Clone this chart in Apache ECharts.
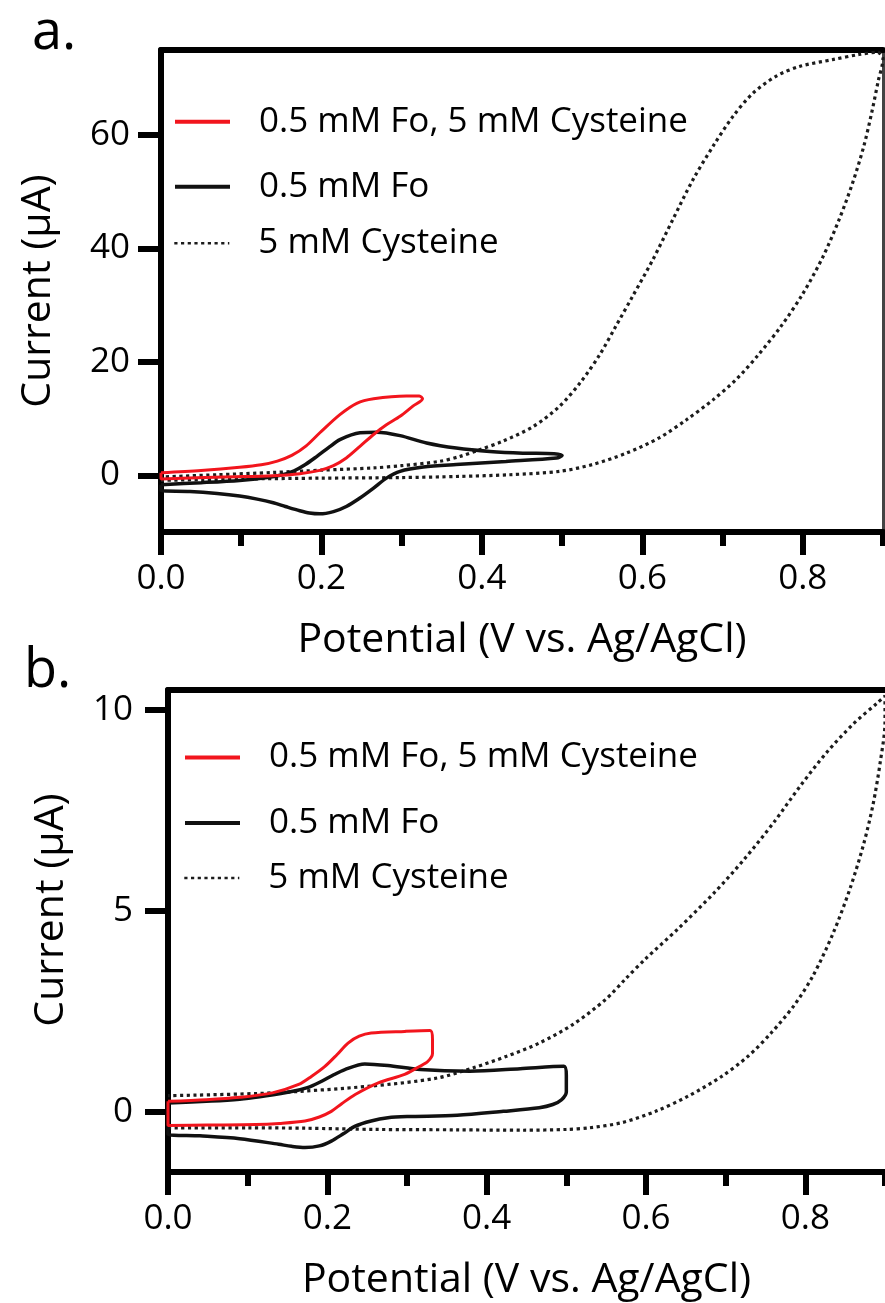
<!DOCTYPE html>
<html>
<head>
<meta charset="utf-8">
<script src="https://cdn.jsdelivr.net/npm/echarts@6/dist/echarts.min.js"></script>
<style>
html,body{margin:0;padding:0;background:#fff;}
#chart{width:885px;height:1303px;}
</style>
</head>
<body>
<div id="chart"></div>
<script>
// ---- tick labels / text ----
const xTickValues = [0, 0.2, 0.4, 0.6, 0.8];
const xMinorTickValues = [0.1, 0.3, 0.5, 0.7, 0.9];
const yTickValuesA = [0, 20, 40, 60];
const yTickValuesB = [0, 5, 10];
const seriesNames = ['0.5 mM Fo, 5 mM Cysteine', '0.5 mM Fo', '5 mM Cysteine'];
const panelLabels = ['a.', 'b.'];
const xTitle = 'Potential (V vs. Ag/AgCl)';
const yTitle = 'Current (\u03bcA)';

// ---- panel a data: [potential V, current uA] ----
const aFoCys = [[0.000,0.45],[0.050,0.85],[0.098,1.40],[0.125,1.85],[0.145,2.50],[0.163,3.50],[0.181,5.20],[0.198,7.50],[0.223,10.70],[0.244,12.70],[0.265,13.50],[0.306,14.00],[0.322,14.00],[0.326,13.50],[0.314,12.20],[0.298,10.40],[0.281,8.90],[0.265,7.20],[0.248,5.10],[0.231,3.05],[0.215,1.70],[0.198,0.87],[0.173,0.28],[0.140,-0.07],[0.078,-0.30],[0.000,-0.65],[0.000,0.45]];
const aFo = [[0.000,-1.65],[0.050,-1.30],[0.098,-0.90],[0.130,-0.45],[0.150,0.05],[0.166,0.80],[0.180,1.90],[0.194,3.30],[0.210,5.00],[0.223,6.30],[0.248,7.50],[0.269,7.60],[0.298,7.00],[0.331,5.70],[0.368,4.80],[0.410,4.20],[0.451,3.90],[0.490,3.80],[0.500,3.50],[0.493,3.05],[0.430,2.45],[0.368,1.90],[0.327,1.45],[0.298,0.70],[0.281,-0.50],[0.265,-2.25],[0.248,-4.00],[0.231,-5.50],[0.215,-6.40],[0.198,-6.80],[0.185,-6.65],[0.173,-6.25],[0.155,-5.50],[0.140,-4.85],[0.120,-4.20],[0.098,-3.65],[0.070,-3.20],[0.036,-2.85],[0.000,-2.70],[0.000,-1.65]];
const aCys = [[0.000,-0.90],[0.050,-0.75],[0.100,-0.65],[0.200,-0.50],[0.300,-0.40],[0.372,-0.20],[0.435,0.10],[0.497,0.70],[0.538,1.90],[0.580,3.90],[0.621,6.60],[0.655,9.80],[0.688,13.30],[0.717,16.90],[0.745,21.30],[0.773,26.30],[0.800,32.00],[0.825,38.50],[0.845,45.00],[0.862,51.50],[0.876,58.00],[0.886,64.00],[0.894,69.50],[0.900,73.50],[0.893,74.60],[0.870,74.20],[0.837,73.30],[0.796,72.10],[0.767,70.40],[0.738,67.40],[0.713,63.30],[0.688,58.00],[0.663,52.10],[0.638,45.10],[0.613,38.00],[0.588,31.60],[0.567,26.30],[0.547,21.30],[0.524,16.60],[0.497,12.20],[0.464,8.60],[0.426,6.00],[0.397,4.50],[0.372,3.30],[0.347,2.45],[0.300,1.70],[0.265,1.30],[0.200,0.90],[0.140,0.50],[0.070,0.10],[0.000,-0.30]];

// ---- panel b data ----
const bFoCys = [[0.000,0.26],[0.048,0.30],[0.090,0.36],[0.131,0.47],[0.164,0.68],[0.180,0.88],[0.197,1.13],[0.212,1.42],[0.226,1.71],[0.240,1.88],[0.255,1.96],[0.297,2.00],[0.329,2.02],[0.332,1.80],[0.332,1.45],[0.326,1.25],[0.315,1.12],[0.297,0.93],[0.264,0.72],[0.235,0.43],[0.218,0.20],[0.205,0.01],[0.190,-0.13],[0.172,-0.23],[0.140,-0.29],[0.110,-0.32],[0.050,-0.33],[0.000,-0.34],[0.000,0.26]];
const bFo = [[0.000,0.22],[0.090,0.31],[0.152,0.49],[0.175,0.60],[0.193,0.76],[0.208,0.92],[0.222,1.05],[0.247,1.19],[0.276,1.15],[0.317,1.05],[0.379,1.01],[0.442,1.07],[0.497,1.13],[0.500,0.90],[0.500,0.50],[0.494,0.30],[0.483,0.18],[0.466,0.10],[0.421,0.01],[0.363,-0.09],[0.300,-0.12],[0.276,-0.15],[0.255,-0.23],[0.235,-0.36],[0.220,-0.55],[0.205,-0.73],[0.190,-0.85],[0.172,-0.89],[0.155,-0.86],[0.139,-0.81],[0.090,-0.67],[0.040,-0.60],[0.000,-0.56],[0.000,0.22]];
const bCys = [[0.000,-0.40],[0.100,-0.40],[0.172,-0.41],[0.260,-0.44],[0.363,-0.45],[0.446,-0.46],[0.500,-0.44],[0.529,-0.40],[0.570,-0.27],[0.612,0.01],[0.653,0.39],[0.695,0.88],[0.728,1.38],[0.757,1.96],[0.786,2.65],[0.810,3.40],[0.835,4.45],[0.856,5.55],[0.873,6.65],[0.885,7.65],[0.894,8.70],[0.900,9.70],[0.900,10.35],[0.891,10.19],[0.860,9.65],[0.827,8.95],[0.794,8.12],[0.761,7.22],[0.723,6.28],[0.686,5.46],[0.640,4.55],[0.599,3.80],[0.574,3.30],[0.549,2.79],[0.508,2.17],[0.466,1.71],[0.425,1.38],[0.384,1.10],[0.338,0.84],[0.255,0.64],[0.131,0.47],[0.000,0.40]];

const FONT = '"Open Sans", "Noto Sans", "DejaVu Sans", sans-serif';
const INK = '#000';
const styles = [
  {color: '#f2151d', width: 3},
  {color: '#111111', width: 3.5},
  {color: '#1c1c1c', width: 3.2, type: [3.2, 3.5]}
];

function xAxesFor(gi) {
  return [
    { gridIndex: gi, type: 'value', min: 0, max: 0.9, position: 'bottom',
      axisLine: {onZero: false, lineStyle: {color: INK, width: 6, cap: 'round'}},
      axisTick: {customValues: xTickValues, length: 23, lineStyle: {color: INK, width: 6}},
      axisLabel: {customValues: xTickValues, margin: 30, color: INK, fontSize: 35, fontFamily: FONT,
                  formatter: v => v.toFixed(1)},
      splitLine: {show: false},
      name: xTitle, nameLocation: 'middle', nameGap: 88,
      nameTextStyle: {color: INK, fontSize: 41, fontFamily: FONT} },
    { gridIndex: gi, type: 'value', min: 0, max: 0.9, position: 'bottom',
      axisLine: {show: false, onZero: false},
      axisTick: {customValues: xMinorTickValues, length: 14, lineStyle: {color: INK, width: 6}},
      axisLabel: {show: false}, splitLine: {show: false} },
    { gridIndex: gi, type: 'value', min: 0, max: 0.9, position: 'top',
      axisLine: {onZero: false, lineStyle: {color: INK, width: 6, cap: 'round'}},
      axisTick: {show: false}, axisLabel: {show: false}, splitLine: {show: false} }
  ];
}

function yAxisMain(gi, min, max, ticks, labelCfg, nameGap, namePad) {
  return { gridIndex: gi, type: 'value', min: min, max: max, position: 'left',
    axisLine: {onZero: false, lineStyle: {color: INK, width: 6, cap: 'round'}},
    axisTick: {customValues: ticks, length: 23, lineStyle: {color: INK, width: 6}},
    axisLabel: Object.assign({customValues: ticks, color: INK, fontSize: 35, fontFamily: FONT}, labelCfg),
    splitLine: {show: false},
    name: yTitle, nameLocation: 'middle', nameGap: nameGap,
    nameTextStyle: {color: INK, fontSize: 41, fontFamily: FONT, padding: namePad} };
}

function line(name, data, xi, yi, st, z) {
  return { type: 'line', name: name, data: data, xAxisIndex: xi, yAxisIndex: yi,
    symbol: 'none', showSymbol: false, smooth: 0.3, z: z, silent: true,
    color: st.color, itemStyle: {color: st.color},
    lineStyle: Object.assign({}, st) };
}

function legendItem(name, left, centerY, lw) {
  return { data: [name], left: left, top: centerY - 17.5, padding: 0, orient: 'horizontal',
    itemWidth: 55, itemHeight: 14, selectedMode: false,
    itemStyle: {opacity: 0, borderWidth: 0},
    lineStyle: {width: lw},
    textStyle: {color: INK, fontSize: 35, fontFamily: FONT, padding: [0, 0, 0, 24]} };
}

const option = {
  animation: false,
  backgroundColor: '#fff',
  grid: [
    {left: 161, top: 50, width: 722, height: 482},
    {left: 168, top: 690, width: 724, height: 482}
  ],
  xAxis: xAxesFor(0).concat(xAxesFor(1)),
  yAxis: [
    yAxisMain(0, -10, 75, yTickValuesA, {margin: 51, align: 'center'}, 102, 0),
    { gridIndex: 0, type: 'value', min: -10, max: 75, position: 'right',
      axisLine: {onZero: false, lineStyle: {color: '#444', width: 3}},
      axisTick: {show: false}, axisLabel: {show: false}, splitLine: {show: false} },
    yAxisMain(1, -1.5, 10.5, yTickValuesB, {margin: 35}, 96, [0, 0, 0, 42])
  ],
  legend: [
    legendItem(seriesNames[0], 173, 121.7, 4),
    legendItem(seriesNames[1], 173, 186.7, 4),
    legendItem(seriesNames[2], 173, 243.3, 2.6),
    legendItem(seriesNames[0], 183, 757.5, 4),
    legendItem(seriesNames[1], 183, 823, 4),
    legendItem(seriesNames[2], 183, 878, 2.6)
  ],
  graphic: [
    {type: 'text', left: 32, top: 7, style: {text: panelLabels[0], fontSize: 54, fontFamily: FONT, fill: INK}},
    {type: 'text', left: 24, top: 645, style: {text: panelLabels[1], fontSize: 54, fontFamily: FONT, fill: INK}}
  ],
  series: [
    line(seriesNames[2], aCys, 0, 0, styles[2], 2),
    line(seriesNames[1], aFo, 0, 0, styles[1], 3),
    line(seriesNames[0], aFoCys, 0, 0, styles[0], 4),
    line(seriesNames[2], bCys, 3, 2, styles[2], 2),
    line(seriesNames[1], bFo, 3, 2, styles[1], 3),
    line(seriesNames[0], bFoCys, 3, 2, styles[0], 4)
  ]
};

const chart = echarts.init(document.getElementById('chart'), null, {renderer: 'canvas'});
chart.setOption(option);
</script>
</body>
</html>
